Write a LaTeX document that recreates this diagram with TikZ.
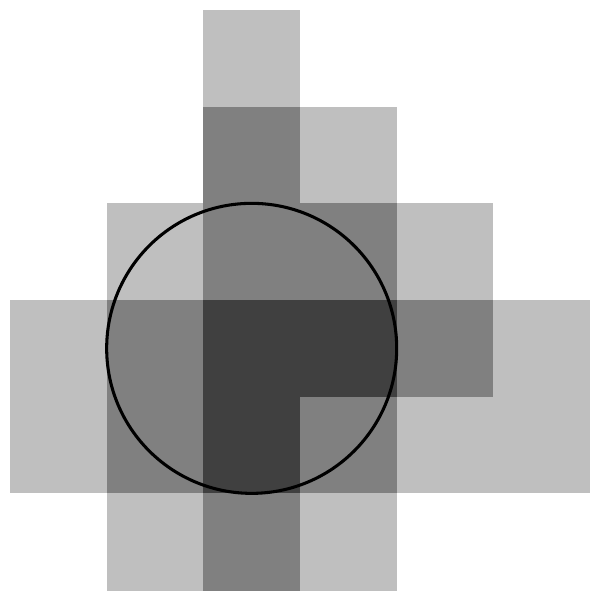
\documentclass[tikz,border=0pt]{standalone}
\begin{document}
\begin{tikzpicture}[x=1cm,y=-1cm,
  lightcell/.style={fill=black!25},
  midcell/.style={fill=black!50},
  darkcell/.style={fill=black!75},
  ring/.style={draw=black,line width=0.9pt}]
\useasboundingbox (-0.1034,-0.1034) rectangle (6,6.01);
% row 0
\fill[lightcell] (2,0) rectangle ++(1,1);
% row 1
\fill[midcell] (2,1) rectangle ++(1,1);
\fill[lightcell] (3,1) rectangle ++(1,1);
% row 2
\fill[lightcell] (1,2) rectangle ++(1,1);
\fill[midcell] (2,2) rectangle ++(1,1);
\fill[midcell] (3,2) rectangle ++(1,1);
\fill[lightcell] (4,2) rectangle ++(1,1);
% row 3
\fill[lightcell] (0,3) rectangle ++(1,1);
\fill[midcell] (1,3) rectangle ++(1,1);
\fill[darkcell] (2,3) rectangle ++(1,1);
\fill[darkcell] (3,3) rectangle ++(1,1);
\fill[midcell] (4,3) rectangle ++(1,1);
\fill[lightcell] (5,3) rectangle ++(1,1);
% row 4
\fill[lightcell] (0,4) rectangle ++(1,1);
\fill[midcell] (1,4) rectangle ++(1,1);
\fill[darkcell] (2,4) rectangle ++(1,1);
\fill[midcell] (3,4) rectangle ++(1,1);
\fill[lightcell] (4,4) rectangle ++(1,1);
\fill[lightcell] (5,4) rectangle ++(1,1);
% row 5
\fill[lightcell] (1,5) rectangle ++(1,1.01);
\fill[midcell] (2,5) rectangle ++(1,1.01);
\fill[lightcell] (3,5) rectangle ++(1,1.01);
% circle
\coordinate (c) at (2.5,3.5);
\draw[ring] (c) circle (1.5);
\end{tikzpicture}
\end{document}
